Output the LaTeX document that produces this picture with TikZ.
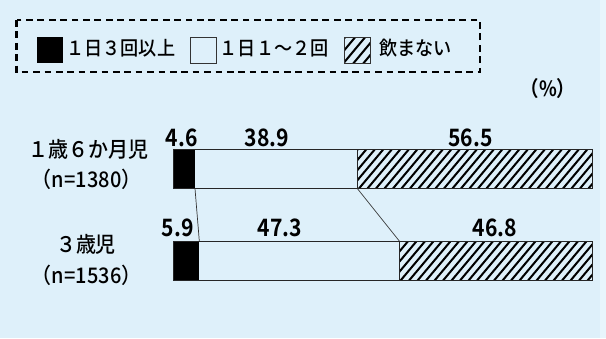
\documentclass[tikz,border=0pt]{standalone}
\usepackage{fontspec}
\setmainfont{Noto Sans CJK JP}[BoldFont={Noto Sans CJK JP Bold}]
\newfontfamily\medfont{Noto Sans CJK JP Medium}[FakeStretch=0.93]
\newfontfamily\numfont{Noto Sans CJK JP Bold}[FakeStretch=0.88]
\definecolor{bgblue}{RGB}{222,240,250}
\definecolor{bgedge}{RGB}{232,245,252}
\begin{document}
\begin{tikzpicture}[x=1pt,y=-1pt,
  bar/.style={draw=black!85,line width=0.9pt},
  conn/.style={draw=black!80,line width=0.7pt},
  hatchline/.style={line width=2pt,line cap=butt},
  legbox/.style={draw=black,line width=2.8pt,dash pattern=on 6.7pt off 4.7pt},
  num/.style={font=\numfont\fontsize{24}{24}\selectfont,inner sep=0pt,anchor=base},
  lab/.style={font=\medfont\fontsize{21.5}{21.5}\selectfont,inner sep=0pt,anchor=base},
  leg/.style={font=\medfont\fontsize{19.5}{19.5}\selectfont,inner sep=0pt,anchor=base}]
\fill[bgblue] (0,0) rectangle (606,338);
\fill[bgedge] (600,0) rectangle (606,338);
\useasboundingbox (0,0) rectangle (606,338);

% legend
\draw[legbox] (16.7,20) rectangle (480,72);
\fill[black] (36.7,37.3) rectangle (63.3,63.3);
\node[leg] (t1) at (120.8,55.5) {１日３回以上};
\draw[black!80,line width=0.8pt] (190,37.3) rectangle (216,63.3);
\node[leg] (t2) at (274.2,55.5) {１日１～２回};
\begin{scope}
  \clip (344,37.3) rectangle (370.7,63.3);
  \foreach \k in {0,...,5} {\draw[hatchline,line width=2pt] ({344-22+\k*10},65) -- ++(25,-30);}
\end{scope}
\draw[black!80,line width=0.8pt] (344,37.3) rectangle (370.7,63.3);
\node[leg] (t3) at (415.8,55.5) {飲まない};
\node[font=\numfont\fontsize{21}{21}\selectfont,inner sep=0pt,anchor=base] (pct) at (548,96) {（\%）};

% row labels
\node[lab] (r1a) at (88.7,157.5) {１歳６か月児};
\node[lab] (r1b) at (86.7,187) {（n=1380）};
\node[lab] (r2a) at (86,252) {３歳児};
\node[lab] (r2b) at (86.7,283) {（n=1536）};

% bar 1
\begin{scope}
  \clip (357.3,149.5) rectangle (592.3,188.5);
  \foreach \k in {0,...,32} {\draw[hatchline] ({357.3-34+\k*8.5},190.5) -- ++(36.1,-43);}
\end{scope}
\fill[black] (173.3,149.5) rectangle (195,188.5);
\draw[bar] (173.3,149.5) rectangle (592.3,188.5);
\draw[bar] (357.3,149.5) -- (357.3,188.5);

% bar 2
\begin{scope}
  \clip (399.3,241) rectangle (592.3,280);
  \foreach \k in {0,...,27} {\draw[hatchline] ({399.3-34+\k*8.5},282) -- ++(36.1,-43);}
\end{scope}
\fill[black] (173.3,241) rectangle (199.3,280);
\draw[bar] (173.3,241) rectangle (592.3,280);
\draw[bar] (399.3,241) -- (399.3,280);

% connectors
\coordinate (a1) at (195,188.5);
\coordinate (a2) at (199.3,241);
\coordinate (c1) at (357.3,188.5);
\coordinate (c2) at (399.3,241);
\draw[conn] (a1) -- (a2);
\draw[conn] (c1) -- (c2);

% values
\node[num] (v1) at (181.7,146.7) {4.6};
\node[num] (v2) at (266.7,146.7) {38.9};
\node[num] (v3) at (470.5,146.7) {56.5};
\node[num] (v4) at (177.7,236.7) {5.9};
\node[num] (v5) at (279.7,236.7) {47.3};
\node[num] (v6) at (495,236.7) {46.8};
\end{tikzpicture}
\end{document}
